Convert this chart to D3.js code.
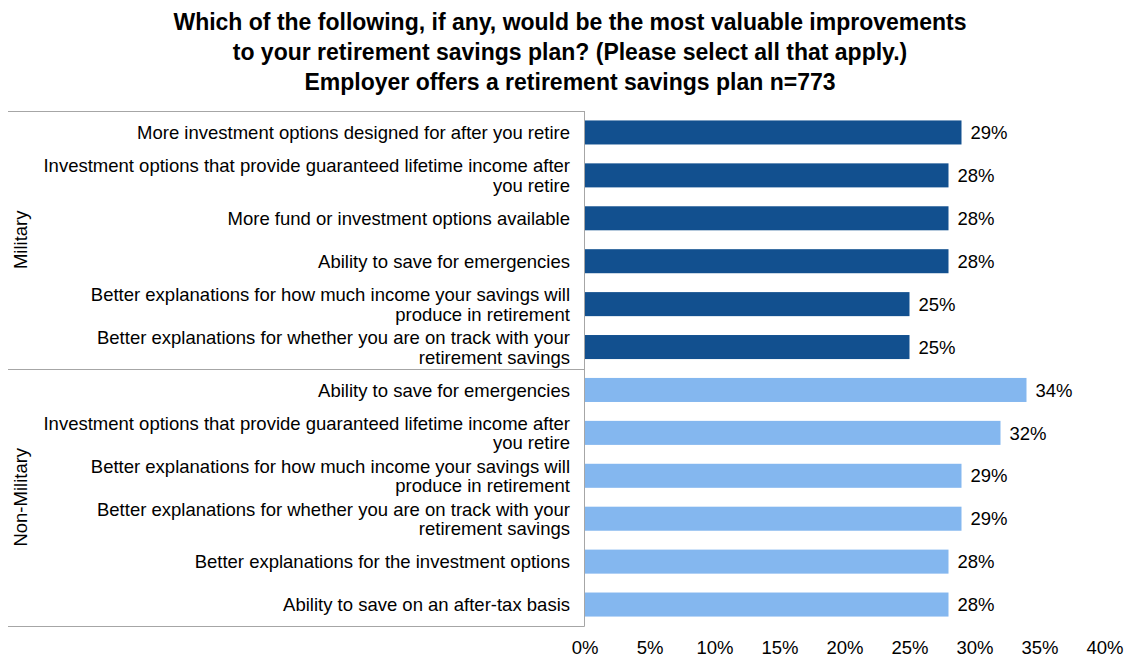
<!DOCTYPE html>
<html><head><meta charset="utf-8">
<script src="https://cdn.jsdelivr.net/npm/d3@7"></script>
<style>body{margin:0;background:#fff;}svg{display:block;font-family:"Liberation Sans",Arial,sans-serif;}</style>
</head><body><svg id="c" width="1124" height="657"></svg>
<script>
const titleLines = ["Which of the following, if any, would be the most valuable improvements","to your retirement savings plan? (Please select all that apply.)","Employer offers a retirement savings plan n=773"];
const groups = ["Military","Non-Military"];
const militaryItems = [
 "More investment options designed for after you retire",
 "Investment options that provide guaranteed lifetime income after|you retire",
 "More fund or investment options available",
 "Ability to save for emergencies",
 "Better explanations for how much income your savings will|produce in retirement",
 "Better explanations for whether you are on track with your|retirement savings"];
const militaryValues = [29,28,28,28,25,25];
const nonMilitaryItems = [
 "Ability to save for emergencies",
 "Investment options that provide guaranteed lifetime income after|you retire",
 "Better explanations for how much income your savings will|produce in retirement",
 "Better explanations for whether you are on track with your|retirement savings",
 "Better explanations for the investment options",
 "Ability to save on an after-tax basis"];
const nonMilitaryValues = [34,32,29,29,28,28];
const xTicks = [0,5,10,15,20,25,30,35,40];
const colors = {"Military":"#12508f","Non-Military":"#84b7ef"};

(function(){
const rows = [];
militaryItems.forEach((t,i)=>rows.push({g:"Military",label:t,v:militaryValues[i],id:"m"+i}));
nonMilitaryItems.forEach((t,i)=>rows.push({g:"Non-Military",label:t,v:nonMilitaryValues[i],id:"n"+i}));

const svg = d3.select("#c");
const plotTop = 111, plotBottom = 626, x0 = 584.5, x1 = 1104.5, leftEdge = 8;
const fs = 18.5;
const x = d3.scaleLinear().domain([0,40]).range([x0,x1]);
const y = d3.scaleBand().domain(rows.map(r=>r.id)).range([plotTop,plotBottom]).paddingInner(0.44).paddingOuter(0.22);

svg.append("g").selectAll("text").data(titleLines).join("text")
 .attr("x",570).attr("y",(d,i)=>30+i*30).attr("text-anchor","middle")
 .attr("font-size",23).attr("font-weight","bold").attr("fill","#000").text(d=>d);

svg.append("g").selectAll("rect").data(rows).join("rect")
 .attr("x",x(0)).attr("y",r=>y(r.id)).attr("width",r=>x(r.v)-x(0)).attr("height",y.bandwidth())
 .attr("fill",r=>colors[r.g]);

svg.append("g").selectAll("text").data(rows).join("text")
 .attr("x",r=>x(r.v)+9).attr("y",r=>y(r.id)+y.bandwidth()/2).attr("dy","0.36em")
 .attr("font-size",fs).attr("fill","#000").text(r=>r.v+"%");

const lab = svg.append("g").selectAll("text").data(rows).join("text")
 .attr("x",570).attr("text-anchor","end").attr("font-size",fs).attr("fill","#000")
 .attr("y",r=>y(r.id)+y.bandwidth()/2);
lab.each(function(r){
  const parts = r.label.split("|");
  const n = parts.length;
  d3.select(this).selectAll("tspan").data(parts).join("tspan")
   .attr("x",570).attr("dy",(d,i)=> i===0 ? ((0.36 - (n-1)*0.53)+"em") : "1.06em").text(d=>d);
});

const lineColor = "#a6a6a6";
const sepY = [plotTop, y("n0") - y.step()*y.paddingInner()/2, plotBottom];
svg.append("g").selectAll("line").data(sepY).join("line")
 .attr("x1",leftEdge).attr("x2",x0).attr("y1",d=>Math.round(d)+0.5).attr("y2",d=>Math.round(d)+0.5)
 .attr("stroke",lineColor).attr("stroke-width",1);
svg.append("line").attr("x1",x0).attr("x2",x0).attr("y1",plotTop).attr("y2",plotBottom+0.5)
 .attr("stroke",lineColor).attr("stroke-width",1);

const gMid = [(sepY[0]+sepY[1])/2,(sepY[1]+sepY[2])/2];
svg.append("g").selectAll("text").data(groups).join("text")
 .attr("transform",(d,i)=>`translate(27,${gMid[i]}) rotate(-90)`)
 .attr("text-anchor","middle").attr("font-size",fs).attr("fill","#000").text(d=>d);

const xAxis = d3.axisBottom(x).tickValues(xTicks).tickFormat(d=>d+"%").tickSize(0).tickPadding(0);
const ax = svg.append("g").attr("transform",`translate(0,${plotBottom})`).call(xAxis);
ax.select(".domain").remove();
ax.selectAll("text").attr("font-size",fs).attr("fill","#000").attr("font-family","Liberation Sans, Arial, sans-serif").attr("y",28).attr("dy",0);
})();
</script></body></html>
